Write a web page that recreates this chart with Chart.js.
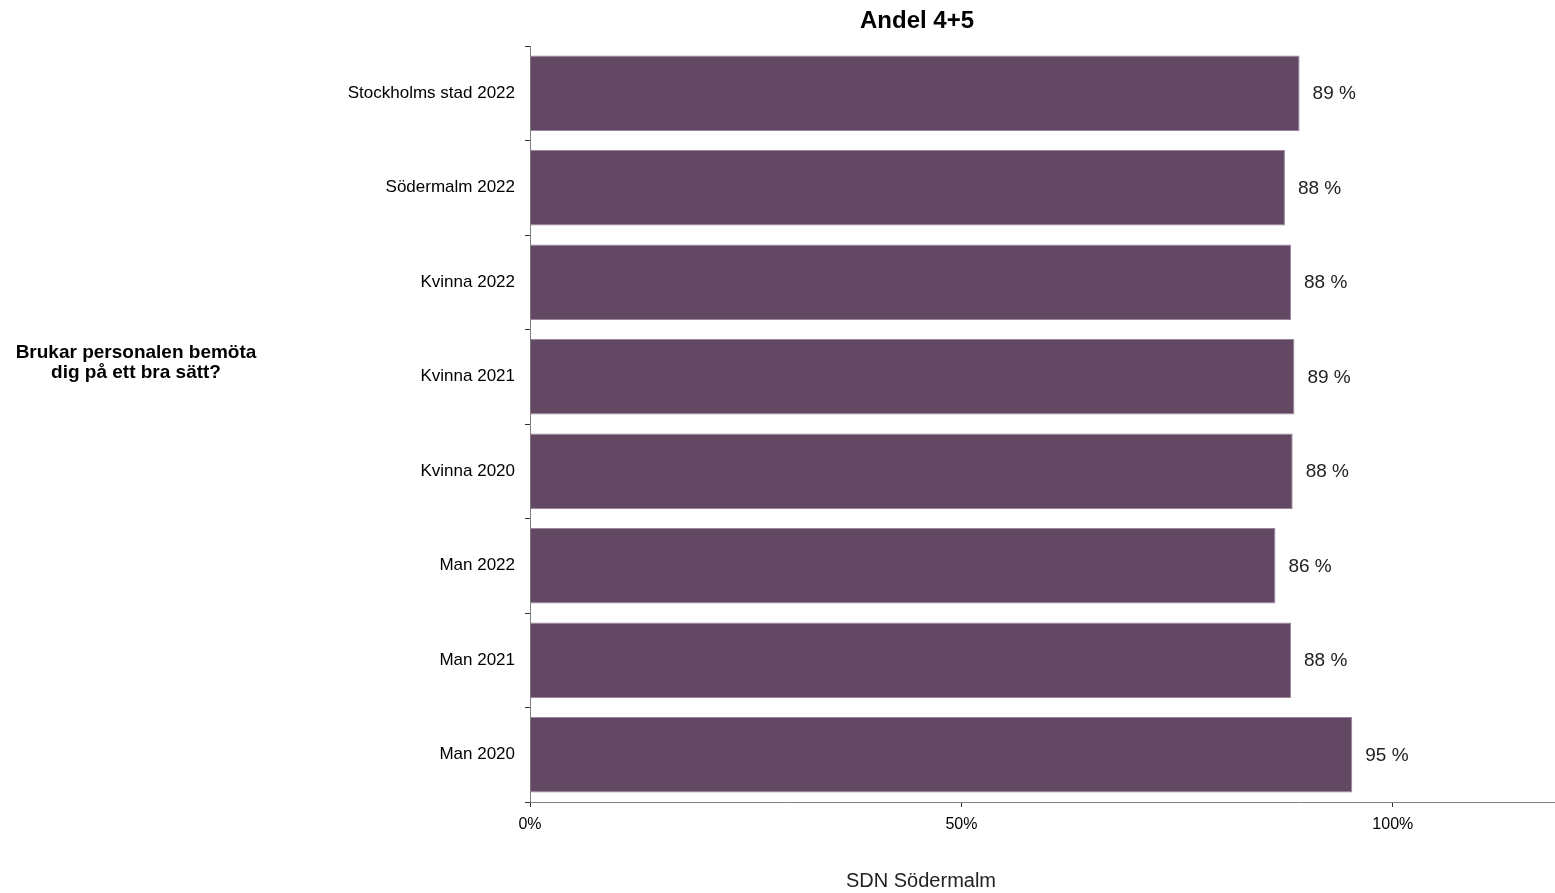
<!DOCTYPE html>
<html lang="sv">
<head>
    <meta charset="UTF-8">
    <title>Andel 4+5</title>
    <script src="https://cdn.jsdelivr.net/npm/chart.js"></script>
    <style>
        html, body {
            margin: 0;
            padding: 0;
            background-color: #ffffff;
        }
        .chart-container {
            position: relative;
            width: 1555px;
            height: 893px;
        }
    </style>
</head>
<body>
    <div class="chart-container">
        <canvas id="barChart"></canvas>
    </div>

    <script>
        const categories = [
            'Stockholms stad 2022',
            'Södermalm 2022',
            'Kvinna 2022',
            'Kvinna 2021',
            'Kvinna 2020',
            'Man 2022',
            'Man 2021',
            'Man 2020'
        ];
        const shares = [89.2, 87.5, 88.2, 88.6, 88.4, 86.4, 88.2, 95.3];
        const xTickValues = [0, 50, 100];

        const chartTitle = 'Andel 4+5';
        const xAxisTitle = 'SDN Södermalm';
        const questionLines = ['Brukar personalen bemöta', 'dig på ett bra sätt?'];

        const fontFamily = '"Liberation Sans", Arial, sans-serif';

        // value labels to the right of each bar + the free-standing texts
        const textPlugin = {
            id: 'texts',
            afterDatasetsDraw(chart) {
                const ctx = chart.ctx;
                const meta = chart.getDatasetMeta(0);
                ctx.save();
                ctx.fillStyle = '#222222';
                ctx.font = '19px ' + fontFamily;
                ctx.textAlign = 'left';
                ctx.textBaseline = 'middle';
                meta.data.forEach((bar, i) => {
                    ctx.fillText(Math.round(shares[i]) + ' %', bar.x + 13, bar.y + 1);
                });

                ctx.fillStyle = '#000000';
                ctx.textAlign = 'center';
                ctx.font = 'bold 24px ' + fontFamily;
                ctx.fillText(chartTitle, 917, 21);

                ctx.fillStyle = '#222222';
                ctx.font = '20px ' + fontFamily;
                ctx.fillText(xAxisTitle, 921, 881);

                ctx.fillStyle = '#000000';
                ctx.font = 'bold 19px ' + fontFamily;
                ctx.fillText(questionLines[0], 136, 353);
                ctx.fillText(questionLines[1], 136, 373);
                ctx.restore();
            }
        };

        const ctx = document.getElementById('barChart').getContext('2d');

        const barChart = new Chart(ctx, {
            type: 'bar',
            data: {
                labels: categories,
                datasets: [{
                    label: 'Andel 4+5',
                    data: shares,
                    backgroundColor: '#634864',
                    borderColor: '#9c869c',
                    borderWidth: 1,
                    borderSkipped: 'start',
                    barPercentage: 0.8,
                    categoryPercentage: 1.0
                }]
            },
            options: {
                indexAxis: 'y',
                responsive: true,
                maintainAspectRatio: false,
                animation: false,
                layout: {
                    padding: { top: 46, right: 0, bottom: 0, left: 0 }
                },
                plugins: {
                    legend: { display: false },
                    title: { display: false },
                    tooltip: { enabled: false }
                },
                scales: {
                    x: {
                        type: 'linear',
                        min: 0,
                        max: 118.8,
                        afterBuildTicks: function(scale) {
                            scale.ticks = xTickValues.map(v => ({ value: v }));
                        },
                        afterFit: function(scale) {
                            scale.height = 91;
                        },
                        border: { display: true, color: '#808080', width: 1 },
                        grid: {
                            drawOnChartArea: false,
                            drawTicks: true,
                            tickLength: 5,
                            color: '#333333'
                        },
                        ticks: {
                            color: '#000000',
                            font: { family: fontFamily, size: 16 },
                            padding: 8,
                            maxRotation: 0,
                            callback: function(value) {
                                return value + '%';
                            }
                        }
                    },
                    y: {
                        afterFit: function(scale) {
                            scale.width = 530;
                        },
                        border: { display: true, color: '#808080', width: 1 },
                        grid: {
                            offset: true,
                            drawOnChartArea: false,
                            drawTicks: true,
                            tickLength: 5,
                            color: '#333333'
                        },
                        ticks: {
                            color: '#000000',
                            font: { family: fontFamily, size: 17 },
                            padding: 10
                        }
                    }
                }
            },
            plugins: [textPlugin]
        });
    </script>
</body>
</html>
